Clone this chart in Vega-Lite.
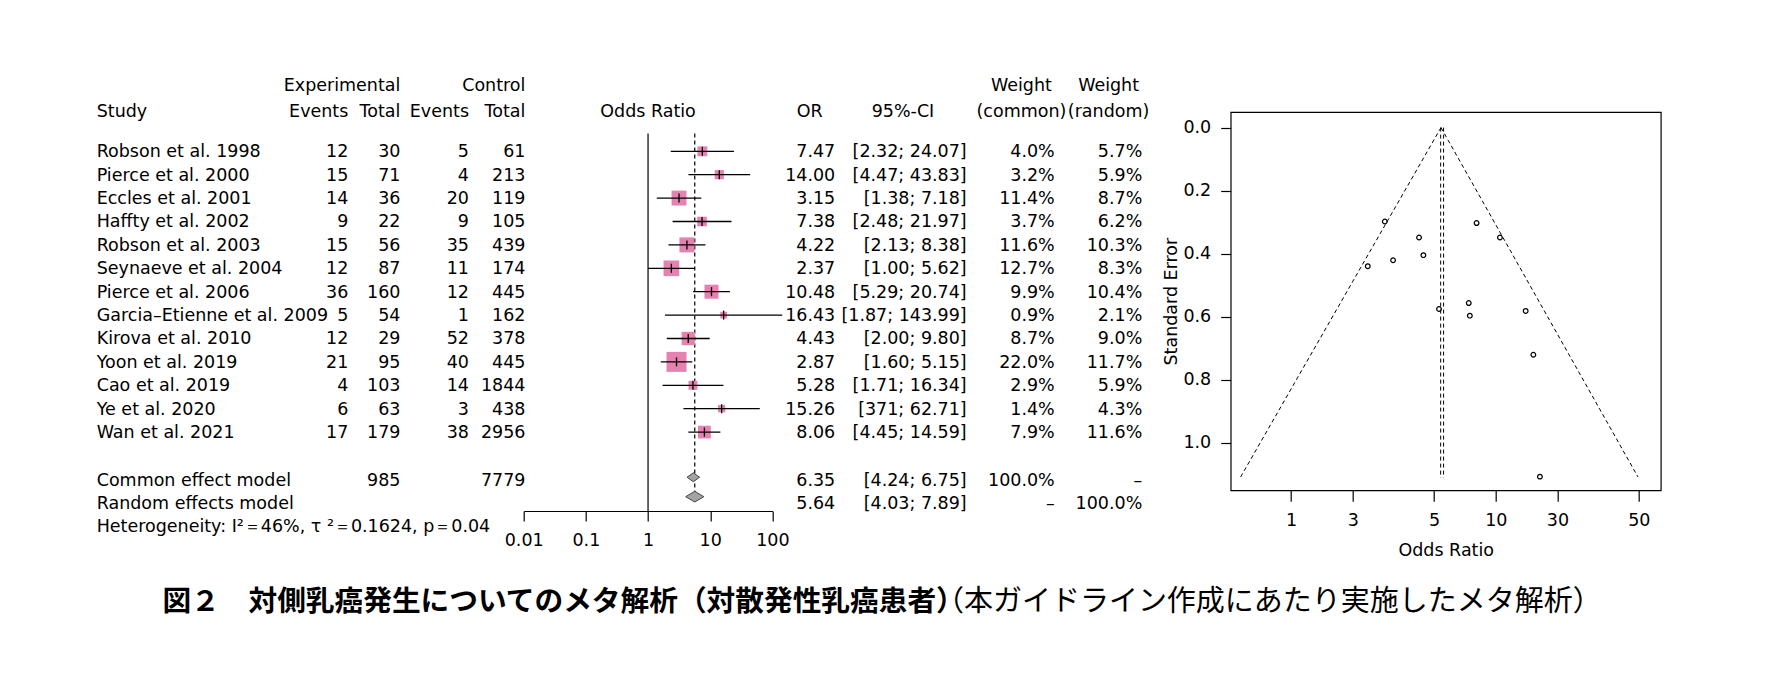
{
  "$schema": "https://vega.github.io/schema/vega-lite/v6.json",
  "background": "white",
  "padding": {"left": 96.7, "top": 77, "right": 12, "bottom": 12},
  "autosize": {"type": "pad"},
  "bounds": "flush",
  "spacing": 0,
  "datasets": {
    "tab": [
      {"s": "Robson et al. 1998", "ee": "12", "et": "30", "ce": "5", "ct": "61", "ort": "7.47", "cit": "[2.32; 24.07]", "wct": "4.0%", "wrt": "5.7%", "or": 7.47, "lo": 2.32, "hi": 24.07, "w": 4.0, "se": 0.597, "row": 1},
      {"s": "Pierce et al. 2000", "ee": "15", "et": "71", "ce": "4", "ct": "213", "ort": "14.00", "cit": "[4.47; 43.83]", "wct": "3.2%", "wrt": "5.9%", "or": 14.0, "lo": 4.47, "hi": 43.83, "w": 3.2, "se": 0.582, "row": 2},
      {"s": "Eccles et al. 2001", "ee": "14", "et": "36", "ce": "20", "ct": "119", "ort": "3.15", "cit": "[1.38; 7.18]", "wct": "11.4%", "wrt": "8.7%", "or": 3.15, "lo": 1.38, "hi": 7.18, "w": 11.4, "se": 0.421, "row": 3},
      {"s": "Haffty et al. 2002", "ee": "9", "et": "22", "ce": "9", "ct": "105", "ort": "7.38", "cit": "[2.48; 21.97]", "wct": "3.7%", "wrt": "6.2%", "or": 7.38, "lo": 2.48, "hi": 21.97, "w": 3.7, "se": 0.557, "row": 4},
      {"s": "Robson et al. 2003", "ee": "15", "et": "56", "ce": "35", "ct": "439", "ort": "4.22", "cit": "[2.13; 8.38]", "wct": "11.6%", "wrt": "10.3%", "or": 4.22, "lo": 2.13, "hi": 8.38, "w": 11.6, "se": 0.349, "row": 5},
      {"s": "Seynaeve et al. 2004", "ee": "12", "et": "87", "ce": "11", "ct": "174", "ort": "2.37", "cit": "[1.00; 5.62]", "wct": "12.7%", "wrt": "8.3%", "or": 2.37, "lo": 1.0, "hi": 5.62, "w": 12.7, "se": 0.44, "row": 6},
      {"s": "Pierce et al. 2006", "ee": "36", "et": "160", "ce": "12", "ct": "445", "ort": "10.48", "cit": "[5.29; 20.74]", "wct": "9.9%", "wrt": "10.4%", "or": 10.48, "lo": 5.29, "hi": 20.74, "w": 9.9, "se": 0.349, "row": 7},
      {"s": "Garcia–Etienne et al. 2009", "ee": "5", "et": "54", "ce": "1", "ct": "162", "ort": "16.43", "cit": "[1.87; 143.99]", "wct": "0.9%", "wrt": "2.1%", "or": 16.43, "lo": 1.87, "hi": 143.99, "w": 0.9, "se": 1.108, "row": 8},
      {"s": "Kirova et al. 2010", "ee": "12", "et": "29", "ce": "52", "ct": "378", "ort": "4.43", "cit": "[2.00; 9.80]", "wct": "8.7%", "wrt": "9.0%", "or": 4.43, "lo": 2.0, "hi": 9.8, "w": 8.7, "se": 0.405, "row": 9},
      {"s": "Yoon et al. 2019", "ee": "21", "et": "95", "ce": "40", "ct": "445", "ort": "2.87", "cit": "[1.60; 5.15]", "wct": "22.0%", "wrt": "11.7%", "or": 2.87, "lo": 1.6, "hi": 5.15, "w": 22.0, "se": 0.298, "row": 10},
      {"s": "Cao et al. 2019", "ee": "4", "et": "103", "ce": "14", "ct": "1844", "ort": "5.28", "cit": "[1.71; 16.34]", "wct": "2.9%", "wrt": "5.9%", "or": 5.28, "lo": 1.71, "hi": 16.34, "w": 2.9, "se": 0.576, "row": 11},
      {"s": "Ye et al. 2020", "ee": "6", "et": "63", "ce": "3", "ct": "438", "ort": "15.26", "cit": "[371; 62.71]", "wct": "1.4%", "wrt": "4.3%", "or": 15.26, "lo": 3.71, "hi": 62.71, "w": 1.4, "se": 0.721, "row": 12},
      {"s": "Wan et al. 2021", "ee": "17", "et": "179", "ce": "38", "ct": "2956", "ort": "8.06", "cit": "[4.45; 14.59]", "wct": "7.9%", "wrt": "11.6%", "or": 8.06, "lo": 4.45, "hi": 14.59, "w": 7.9, "se": 0.303, "row": 13},
      {"s": "Common effect model", "et": "985", "ct": "7779", "ort": "6.35", "cit": "[4.24; 6.75]", "wct": "100.0%", "wrt": "–", "row": 15.04},
      {"s": "Random effects model", "ort": "5.64", "cit": "[4.03; 7.89]", "wct": "–", "wrt": "100.0%", "row": 16.02},
      {"s": "Heterogeneity: I²＝46%,  τ ²＝0.1624, p＝0.04", "row": 17.03}
    ],
    "heads": [
      {"col": "et", "row": -1.82, "t": "Experimental"},
      {"col": "ct", "row": -1.82, "t": "Control"},
      {"col": "wc", "row": -1.82, "t": "Weight"},
      {"col": "wr", "row": -1.82, "t": "Weight"},
      {"col": "s", "row": -0.72, "t": "Study"},
      {"col": "ee", "row": -0.72, "t": "Events"},
      {"col": "et", "row": -0.72, "t": "Total"},
      {"col": "ce", "row": -0.72, "t": "Events"},
      {"col": "ct", "row": -0.72, "t": "Total"},
      {"col": "forest", "row": -0.72, "t": "Odds Ratio"},
      {"col": "or", "row": -0.72, "t": "OR"},
      {"col": "ci", "row": -0.72, "t": "95%-CI"},
      {"col": "wc", "row": -0.72, "t": "(common)"},
      {"col": "wr", "row": -0.72, "t": "(random)"}
    ],
    "refs": [
      {"kind": "null", "or": 1},
      {"kind": "random", "or": 5.64}
    ],
    "dia": [
      {"m": "common", "or": 4.24, "y1": 14.93, "y2": 14.93},
      {"m": "common", "or": 5.35, "y1": 14.74, "y2": 15.12},
      {"m": "common", "or": 6.75, "y1": 14.93, "y2": 14.93},
      {"m": "random", "or": 4.03, "y1": 15.76, "y2": 15.76},
      {"m": "random", "or": 5.64, "y1": 15.53, "y2": 15.99},
      {"m": "random", "or": 7.89, "y1": 15.76, "y2": 15.76}
    ],
    "fun": [
      {"side": "L", "or": 5.4, "se": 0},
      {"side": "L", "or": 0.567, "se": 1.109},
      {"side": "R", "or": 5.4, "se": 0},
      {"side": "R", "or": 49.5, "se": 1.109}
    ],
    "fv": [
      {"or": 5.38},
      {"or": 5.56}
    ],
    "cap": [
      {"part": "b", "row": 20.26, "t": "図２　対側乳癌発生についてのメタ解析（対散発性乳癌患者）"},
      {"part": "n", "row": 20.26, "t": "（本ガイドライン作成にあたり実施したメタ解析）"}
    ]
  },
  "hconcat": [
    {
      "width": 180, "height": 399,
      "layer": [
        {"data": {"name": "tab"}, "mark": {"type": "text", "align": "left"},
         "encoding": {"x": {"value": 0}, "y": {"field": "row", "type": "quantitative", "scale": {"domain": [-0.679, 16.372], "reverse": true, "nice": false, "zero": false}, "axis": null}, "text": {"field": "s", "type": "nominal"}}},
        {"data": {"name": "heads"}, "transform": [{"filter": {"field": "col", "equal": "s"}}], "mark": {"type": "text", "align": "left"},
         "encoding": {"x": {"value": 0}, "y": {"field": "row", "type": "quantitative", "scale": {"domain": [-0.679, 16.372], "reverse": true, "nice": false, "zero": false}, "axis": null}, "text": {"field": "t", "type": "nominal"}}}
      ]
    },
    {
      "width": 71.6, "height": 399,
      "layer": [
        {"data": {"name": "tab"}, "transform": [{"filter": "isValid(datum.ee)"}], "mark": {"type": "text", "align": "right"},
         "encoding": {"x": {"value": "width"}, "y": {"field": "row", "type": "quantitative", "scale": {"domain": [-0.679, 16.372], "reverse": true, "nice": false, "zero": false}, "axis": null}, "text": {"field": "ee", "type": "nominal"}}},
        {"data": {"name": "heads"}, "transform": [{"filter": {"field": "col", "equal": "ee"}}], "mark": {"type": "text", "align": "right"},
         "encoding": {"x": {"value": "width"}, "y": {"field": "row", "type": "quantitative", "scale": {"domain": [-0.679, 16.372], "reverse": true, "nice": false, "zero": false}, "axis": null}, "text": {"field": "t", "type": "nominal"}}}
      ]
    },
    {
      "width": 51.7, "height": 399,
      "layer": [
        {"data": {"name": "tab"}, "transform": [{"filter": "isValid(datum.et)"}], "mark": {"type": "text", "align": "right"},
         "encoding": {"x": {"value": "width"}, "y": {"field": "row", "type": "quantitative", "scale": {"domain": [-0.679, 16.372], "reverse": true, "nice": false, "zero": false}, "axis": null}, "text": {"field": "et", "type": "nominal"}}},
        {"data": {"name": "heads"}, "transform": [{"filter": {"field": "col", "equal": "et"}}], "mark": {"type": "text", "align": "right"},
         "encoding": {"x": {"value": "width"}, "y": {"field": "row", "type": "quantitative", "scale": {"domain": [-0.679, 16.372], "reverse": true, "nice": false, "zero": false}, "axis": null}, "text": {"field": "t", "type": "nominal"}}}
      ]
    },
    {
      "width": 68.3, "height": 399,
      "layer": [
        {"data": {"name": "tab"}, "transform": [{"filter": "isValid(datum.ce)"}], "mark": {"type": "text", "align": "right"},
         "encoding": {"x": {"value": "width"}, "y": {"field": "row", "type": "quantitative", "scale": {"domain": [-0.679, 16.372], "reverse": true, "nice": false, "zero": false}, "axis": null}, "text": {"field": "ce", "type": "nominal"}}},
        {"data": {"name": "heads"}, "transform": [{"filter": {"field": "col", "equal": "ce"}}], "mark": {"type": "text", "align": "right"},
         "encoding": {"x": {"value": "width"}, "y": {"field": "row", "type": "quantitative", "scale": {"domain": [-0.679, 16.372], "reverse": true, "nice": false, "zero": false}, "axis": null}, "text": {"field": "t", "type": "nominal"}}}
      ]
    },
    {
      "width": 53.2, "height": 399,
      "layer": [
        {"data": {"name": "tab"}, "transform": [{"filter": "isValid(datum.ct)"}], "mark": {"type": "text", "align": "right", "dx": 2.5},
         "encoding": {"x": {"value": "width"}, "y": {"field": "row", "type": "quantitative", "scale": {"domain": [-0.679, 16.372], "reverse": true, "nice": false, "zero": false}, "axis": null}, "text": {"field": "ct", "type": "nominal"}}},
        {"data": {"name": "heads"}, "transform": [{"filter": {"field": "col", "equal": "ct"}}], "mark": {"type": "text", "align": "right", "dx": 2.5},
         "encoding": {"x": {"value": "width"}, "y": {"field": "row", "type": "quantitative", "scale": {"domain": [-0.679, 16.372], "reverse": true, "nice": false, "zero": false}, "axis": null}, "text": {"field": "t", "type": "nominal"}}}
      ]
    },
    {
      "width": 248.7, "height": 399,
      "layer": [
        {"data": {"name": "refs"}, "transform": [{"filter": {"field": "kind", "equal": "null"}}],
         "mark": {"type": "rule", "color": "black", "strokeWidth": 1.2},
         "encoding": {
           "x": {"field": "or", "type": "quantitative", "scale": {"type": "log", "domain": [0.01, 100], "nice": false}, "axis": {"values": [0.01, 0.1, 1, 10, 100], "format": "~g", "title": null, "tickSize": 10, "tickWidth": 1.2, "domainWidth": 1.2, "labelPadding": 11}},
           "y": {"datum": 0.244, "type": "quantitative", "scale": {"domain": [-0.679, 16.372], "reverse": true, "nice": false, "zero": false}, "axis": null},
           "y2": {"datum": 16.372}}},
        {"data": {"name": "refs"}, "transform": [{"filter": {"field": "kind", "equal": "random"}}],
         "mark": {"type": "rule", "color": "black", "strokeWidth": 1.2, "strokeDash": [4, 3]},
         "encoding": {
           "x": {"field": "or", "type": "quantitative", "scale": {"type": "log", "domain": [0.01, 100], "nice": false}, "axis": {"values": [0.01, 0.1, 1, 10, 100], "format": "~g", "title": null, "tickSize": 10, "tickWidth": 1.2, "domainWidth": 1.2, "labelPadding": 11}},
           "y": {"datum": 0.244, "type": "quantitative", "scale": {"domain": [-0.679, 16.372], "reverse": true, "nice": false, "zero": false}, "axis": null},
           "y2": {"datum": 16.06}}},
        {"data": {"name": "tab"}, "transform": [{"filter": {"field": "or", "valid": true}}],
         "mark": {"type": "square", "color": "#E681B1", "opacity": 1},
         "encoding": {
           "x": {"field": "or", "type": "quantitative", "scale": {"type": "log", "domain": [0.01, 100], "nice": false}, "axis": {"values": [0.01, 0.1, 1, 10, 100], "format": "~g", "title": null, "tickSize": 10, "tickWidth": 1.2, "domainWidth": 1.2, "labelPadding": 11}},
           "y": {"field": "row", "type": "quantitative", "scale": {"domain": [-0.679, 16.372], "reverse": true, "nice": false, "zero": false}, "axis": null},
           "size": {"field": "w", "type": "quantitative", "scale": {"domain": [0, 22], "range": [30, 400]}, "legend": null}}},
        {"data": {"name": "tab"}, "transform": [{"filter": {"field": "lo", "valid": true}}],
         "mark": {"type": "rule", "color": "black", "strokeWidth": 1.3},
         "encoding": {
           "x": {"field": "lo", "type": "quantitative", "scale": {"type": "log", "domain": [0.01, 100], "nice": false}, "axis": {"values": [0.01, 0.1, 1, 10, 100], "format": "~g", "title": null, "tickSize": 10, "tickWidth": 1.2, "domainWidth": 1.2, "labelPadding": 11}},
           "x2": {"field": "hi"},
           "y": {"field": "row", "type": "quantitative", "scale": {"domain": [-0.679, 16.372], "reverse": true, "nice": false, "zero": false}, "axis": null}}},
        {"data": {"name": "tab"}, "transform": [{"filter": {"field": "or", "valid": true}}],
         "mark": {"type": "tick", "orient": "vertical", "color": "black", "size": 9, "thickness": 1.3, "opacity": 1},
         "encoding": {
           "x": {"field": "or", "type": "quantitative", "scale": {"type": "log", "domain": [0.01, 100], "nice": false}, "axis": {"values": [0.01, 0.1, 1, 10, 100], "format": "~g", "title": null, "tickSize": 10, "tickWidth": 1.2, "domainWidth": 1.2, "labelPadding": 11}},
           "y": {"field": "row", "type": "quantitative", "scale": {"domain": [-0.679, 16.372], "reverse": true, "nice": false, "zero": false}, "axis": null}}},
        {"data": {"name": "dia"},
         "mark": {"type": "area", "orient": "vertical", "fill": "#A3A3A3", "stroke": "#444444", "strokeWidth": 1, "opacity": 1, "fillOpacity": 1},
         "encoding": {
           "x": {"field": "or", "type": "quantitative", "scale": {"type": "log", "domain": [0.01, 100], "nice": false}, "axis": {"values": [0.01, 0.1, 1, 10, 100], "format": "~g", "title": null, "tickSize": 10, "tickWidth": 1.2, "domainWidth": 1.2, "labelPadding": 11}},
           "y": {"field": "y1", "type": "quantitative", "stack": null, "scale": {"domain": [-0.679, 16.372], "reverse": true, "nice": false, "zero": false}, "axis": null},
           "y2": {"field": "y2"},
           "detail": {"field": "m", "type": "nominal"}}},
        {"data": {"name": "heads"}, "transform": [{"filter": {"field": "col", "equal": "forest"}}],
         "mark": {"type": "text", "align": "center"},
         "encoding": {
           "x": {"datum": 1, "type": "quantitative", "scale": {"type": "log", "domain": [0.01, 100], "nice": false}, "axis": {"values": [0.01, 0.1, 1, 10, 100], "format": "~g", "title": null, "tickSize": 10, "tickWidth": 1.2, "domainWidth": 1.2, "labelPadding": 11}},
           "y": {"field": "row", "type": "quantitative", "scale": {"domain": [-0.679, 16.372], "reverse": true, "nice": false, "zero": false}, "axis": null},
           "text": {"field": "t", "type": "nominal"}}}
      ]
    },
    {
      "width": 62.5, "height": 399,
      "layer": [
        {"data": {"name": "tab"}, "transform": [{"filter": "isValid(datum.ort)"}], "mark": {"type": "text", "align": "right"},
         "encoding": {"x": {"value": "width"}, "y": {"field": "row", "type": "quantitative", "scale": {"domain": [-0.679, 16.372], "reverse": true, "nice": false, "zero": false}, "axis": null}, "text": {"field": "ort", "type": "nominal"}}},
        {"data": {"name": "heads"}, "transform": [{"filter": {"field": "col", "equal": "or"}}], "mark": {"type": "text", "align": "right", "dx": -12.5},
         "encoding": {"x": {"value": "width"}, "y": {"field": "row", "type": "quantitative", "scale": {"domain": [-0.679, 16.372], "reverse": true, "nice": false, "zero": false}, "axis": null}, "text": {"field": "t", "type": "nominal"}}}
      ]
    },
    {
      "width": 131, "height": 399,
      "layer": [
        {"data": {"name": "tab"}, "transform": [{"filter": "isValid(datum.cit)"}], "mark": {"type": "text", "align": "right"},
         "encoding": {"x": {"value": "width"}, "y": {"field": "row", "type": "quantitative", "scale": {"domain": [-0.679, 16.372], "reverse": true, "nice": false, "zero": false}, "axis": null}, "text": {"field": "cit", "type": "nominal"}}},
        {"data": {"name": "heads"}, "transform": [{"filter": {"field": "col", "equal": "ci"}}], "mark": {"type": "text", "align": "center", "dx": 1.8},
         "encoding": {"y": {"field": "row", "type": "quantitative", "scale": {"domain": [-0.679, 16.372], "reverse": true, "nice": false, "zero": false}, "axis": null}, "text": {"field": "t", "type": "nominal"}}},
        {"data": {"name": "cap"}, "transform": [{"filter": {"field": "part", "equal": "b"}}],
         "mark": {"type": "text", "align": "right", "font": "Noto Sans CJK JP", "fontSize": 28.7, "fontWeight": "bold", "dx": -1.9, "dy": 0},
         "encoding": {"x": {"value": "width"}, "y": {"field": "row", "type": "quantitative", "scale": {"domain": [-0.679, 16.372], "reverse": true, "nice": false, "zero": false}, "axis": null}, "text": {"field": "t", "type": "nominal"}}},
        {"data": {"name": "cap"}, "transform": [{"filter": {"field": "part", "equal": "n"}}],
         "mark": {"type": "text", "align": "left", "font": "Noto Sans CJK JP", "fontSize": 29, "fontWeight": "normal", "dx": -31.7, "dy": 0},
         "encoding": {"x": {"value": "width"}, "y": {"field": "row", "type": "quantitative", "scale": {"domain": [-0.679, 16.372], "reverse": true, "nice": false, "zero": false}, "axis": null}, "text": {"field": "t", "type": "nominal"}}}
      ]
    },
    {
      "width": 88, "height": 399,
      "layer": [
        {"data": {"name": "tab"}, "transform": [{"filter": "isValid(datum.wct)"}], "mark": {"type": "text", "align": "right"},
         "encoding": {"x": {"value": "width"}, "y": {"field": "row", "type": "quantitative", "scale": {"domain": [-0.679, 16.372], "reverse": true, "nice": false, "zero": false}, "axis": null}, "text": {"field": "wct", "type": "nominal"}}},
        {"data": {"name": "heads"}, "transform": [{"filter": {"field": "col", "equal": "wc"}}], "mark": {"type": "text", "align": "center", "dx": 10.7},
         "encoding": {"y": {"field": "row", "type": "quantitative", "scale": {"domain": [-0.679, 16.372], "reverse": true, "nice": false, "zero": false}, "axis": null}, "text": {"field": "t", "type": "nominal"}}}
      ]
    },
    {
      "width": 87.6, "height": 399,
      "layer": [
        {"data": {"name": "tab"}, "transform": [{"filter": "isValid(datum.wrt)"}], "mark": {"type": "text", "align": "right"},
         "encoding": {"x": {"value": "width"}, "y": {"field": "row", "type": "quantitative", "scale": {"domain": [-0.679, 16.372], "reverse": true, "nice": false, "zero": false}, "axis": null}, "text": {"field": "wrt", "type": "nominal"}}},
        {"data": {"name": "heads"}, "transform": [{"filter": {"field": "col", "equal": "wr"}}], "mark": {"type": "text", "align": "center", "dx": 10.1},
         "encoding": {"y": {"field": "row", "type": "quantitative", "scale": {"domain": [-0.679, 16.372], "reverse": true, "nice": false, "zero": false}, "axis": null}, "text": {"field": "t", "type": "nominal"}}}
      ]
    },
    {
      "width": 87.4, "height": 399,
      "data": {"values": []},
      "mark": {"type": "point", "opacity": 0},
      "encoding": {}
    },
    {
      "width": 430.1, "height": 378.3,
      "view": {"stroke": "black", "strokeWidth": 1.2},
      "layer": [
        {"data": {"name": "fun"},
         "mark": {"type": "line", "color": "black", "strokeWidth": 1, "strokeDash": [4, 3]},
         "encoding": {
           "x": {"field": "or", "type": "quantitative", "scale": {"type": "log", "domain": [0.507, 64.0], "nice": false}, "axis": {"values": [1, 2, 5, 10, 20, 50], "labelExpr": "datum.value == 2 ? '3' : datum.value == 20 ? '30' : format(datum.value, '~g')", "title": "Odds Ratio", "tickSize": 11, "tickWidth": 1.2, "labelPadding": 10.7, "titlePadding": 12.2, "domain": false}},
           "y": {"field": "se", "type": "quantitative", "scale": {"domain": [-0.0495, 1.1514], "reverse": true, "nice": false, "zero": false}, "axis": {"values": [0, 0.2, 0.4, 0.6, 0.8, 1.0], "format": ".1f", "title": "Standard Error", "tickSize": 10, "tickWidth": 1.2, "labelPadding": 10, "titlePadding": 2, "domain": false}},
           "detail": {"field": "side", "type": "nominal"}}},
        {"data": {"name": "fv"},
         "mark": {"type": "rule", "color": "black", "strokeWidth": 1, "strokeDash": [4, 3]},
         "encoding": {
           "x": {"field": "or", "type": "quantitative", "scale": {"type": "log", "domain": [0.507, 64.0], "nice": false}, "axis": {"values": [1, 2, 5, 10, 20, 50], "labelExpr": "datum.value == 2 ? '3' : datum.value == 20 ? '30' : format(datum.value, '~g')", "title": "Odds Ratio", "tickSize": 11, "tickWidth": 1.2, "labelPadding": 10.7, "titlePadding": 12.2, "domain": false}},
           "y": {"datum": 0, "type": "quantitative", "scale": {"domain": [-0.0495, 1.1514], "reverse": true, "nice": false, "zero": false}, "axis": {"values": [0, 0.2, 0.4, 0.6, 0.8, 1.0], "format": ".1f", "title": "Standard Error", "tickSize": 10, "tickWidth": 1.2, "labelPadding": 10, "titlePadding": 2, "domain": false}},
           "y2": {"datum": 1.112}}},
        {"data": {"name": "tab"}, "transform": [{"filter": {"field": "se", "valid": true}}],
         "mark": {"type": "point", "filled": false, "color": "black", "size": 22, "strokeWidth": 1.2, "opacity": 1},
         "encoding": {
           "x": {"field": "or", "type": "quantitative", "scale": {"type": "log", "domain": [0.507, 64.0], "nice": false}, "axis": {"values": [1, 2, 5, 10, 20, 50], "labelExpr": "datum.value == 2 ? '3' : datum.value == 20 ? '30' : format(datum.value, '~g')", "title": "Odds Ratio", "tickSize": 11, "tickWidth": 1.2, "labelPadding": 10.7, "titlePadding": 12.2, "domain": false}},
           "y": {"field": "se", "type": "quantitative", "scale": {"domain": [-0.0495, 1.1514], "reverse": true, "nice": false, "zero": false}, "axis": {"values": [0, 0.2, 0.4, 0.6, 0.8, 1.0], "format": ".1f", "title": "Standard Error", "tickSize": 10, "tickWidth": 1.2, "labelPadding": 10, "titlePadding": 2, "domain": false}}}}
      ]
    }
  ],
  "config": {
    "view": {"stroke": null},
    "text": {"font": "DejaVu Sans", "fontSize": 17.5, "color": "black", "baseline": "middle", "dy": 1},
    "axis": {
      "labelFont": "DejaVu Sans", "titleFont": "DejaVu Sans",
      "labelFontSize": 17.5, "titleFontSize": 17.5, "titleFontWeight": "normal",
      "labelColor": "black", "titleColor": "black",
      "domainColor": "black", "tickColor": "black",
      "grid": false, "labelFlush": false, "labelOverlap": false
    }
  }
}
